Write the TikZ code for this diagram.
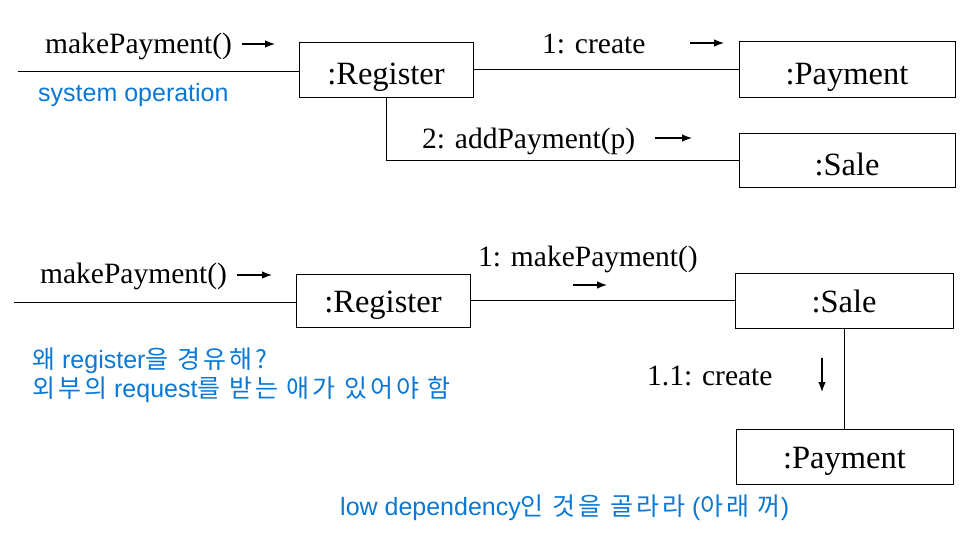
\documentclass[tikz,border=0pt]{standalone}
\usepackage{fontspec}
\setmainfont{Liberation Serif}
\newfontfamily\notefont{Liberation Sans}
\newfontfamily\korfont[LetterSpace=12]{Noto Sans CJK KR}
\newcommand{\kor}[1]{{\korfont #1}}
\usetikzlibrary{arrows.meta}
\definecolor{notecol}{HTML}{0A78D4}

\begin{document}
\begin{tikzpicture}[x=1pt, y=-1pt,
    obj/.style={draw, line width=1pt, inner sep=0pt, text height=24pt, text depth=0pt,
      font=\fontsize{32.5}{36}\selectfont},
    low/.style={text height=30pt},
    msg/.style={anchor=base west, inner sep=0pt, font=\fontsize{29.5}{33}\selectfont},
    note/.style={anchor=base west, inner sep=0pt, text=notecol, font=\notefont\fontsize{25}{29}\selectfont},
    link/.style={line width=1pt},
    dir/.style={line width=1.2pt, -{Latex[length=10pt, width=7.5pt]}}]
    \useasboundingbox (0,0) rectangle (974,549);

    % upper diagram
    \node[obj, low, minimum width=174, minimum height=55] (reg1) at (386,69.5) {:Register};
    \node[obj, low, minimum width=216, minimum height=56] (pay1) at (847,69) {:Payment};
    \node[obj, low, minimum width=216, minimum height=54] (sale1) at (847,160) {:Sale};
    \coordinate (in1) at (18,71);

    \draw[link] (in1) -- (in1 -| reg1.west);
    \draw[link] (reg1.east) -- (reg1.east -| pay1.west);
    \draw[link] (reg1.south) |- (sale1.west);

    \node[msg] (mp1) at (45,53) {makePayment()};
    \draw[dir] (242,44) -- ++(33,0);
    \node[note] (sysop) at (38,101) {system operation};
    \node[msg] (cr1) at (542,53) {1: create};
    \draw[dir] (690,43) -- ++(34,0);
    \node[msg] (add1) at (422,148) {2: addPayment(p)};
    \draw[dir] (655,138) -- ++(37,0);

    % lower diagram
    \node[obj, minimum width=174, minimum height=53] (reg2) at (383,300.5) {:Register};
    \node[obj, minimum width=218, minimum height=55] (sale2) at (844,300.5) {:Sale};
    \node[obj, minimum width=217, minimum height=55] (pay2) at (844.5,456.5) {:Payment};
    \coordinate (in2) at (14,302);

    \draw[link] (in2) -- (in2 -| reg2.west);
    \draw[link] (reg2.east) -- (reg2.east -| sale2.west);
    \draw[link] (sale2.south) -- (sale2.south |- pay2.north);

    \node[msg] (mp2) at (40,283) {makePayment()};
    \draw[dir] (237,275) -- ++(35,0);
    \node[msg] (mp3) at (478,266) {1: makePayment()};
    \draw[dir] (573,285) -- ++(34,0);
    \node[msg] (cr2) at (647,385) {1.1: create};
    \draw[dir] (822,358) -- ++(0,34);

    \node[note] (why) at (32,368) {\kor{왜} register\kor{을 경유해?}};
    \node[note] (ext) at (32,397) {\kor{외부의} request\kor{를 받는 애가 있어야 함}};
    \node[note] (low) at (340,515) {low dependency\kor{인 것을 골라라} (\kor{아래 꺼})};
\end{tikzpicture}
\end{document}
